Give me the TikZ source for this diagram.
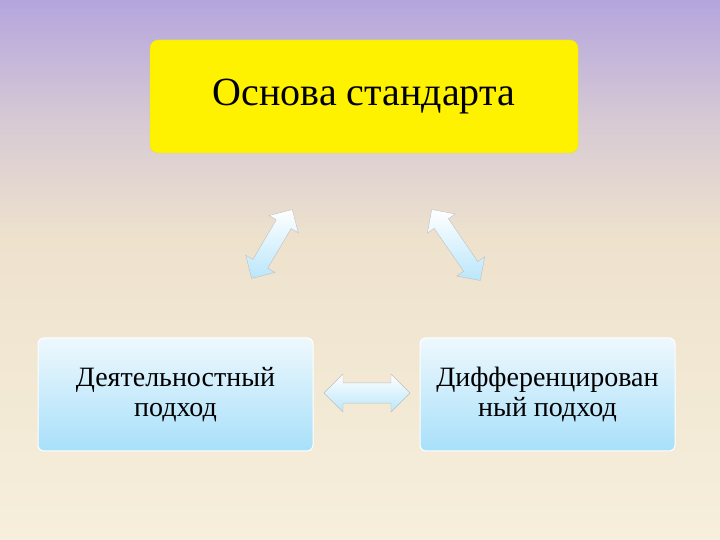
\documentclass[tikz,border=0pt]{standalone}
\usepackage{fontspec}
\setmainfont{Liberation Serif}
\usetikzlibrary{shapes.arrows}
\definecolor{bgtop}{RGB}{180,165,222}
\definecolor{bgmid}{RGB}{238,226,205}
\definecolor{bgbot}{RGB}{246,239,220}
\definecolor{boxtop}{RGB}{238,248,253}
\definecolor{boxbot}{RGB}{168,224,250}
\tikzset{
 bluebox/.style={rounded corners=6pt, top color=boxtop, bottom color=boxbot, draw=white, line width=1pt,
   minimum width=275pt, minimum height=113pt, align=center, font=\fontsize{28}{30}\selectfont, inner sep=0pt},
 barrow/.style={double arrow, draw=gray!50, line width=0.4pt, top color=white, bottom color=boxbot!80,
   double arrow head extend=8pt, inner xsep=0pt, inner ysep=8pt, minimum width=34pt}
}
\begin{document}
\begin{tikzpicture}[x=1pt,y=1pt]
\useasboundingbox (0,0) rectangle (720,540);
\shade[top color=bgtop, bottom color=bgmid, middle color=bgmid!60!bgtop] (0,300) rectangle (720,540);
\shade[top color=bgmid, bottom color=bgbot] (0,0) rectangle (720,300.5);
\node[rounded corners=8pt, fill=yellow, draw=yellow!90!black, line width=0.3pt, minimum width=428pt, minimum height=113pt,
  font=\fontsize{40}{44}\selectfont] (top) at (364,443.5) {Основа стандарта};
\node[bluebox] (left) at (175.5,145.5) {Деятельностный\\подход};
\node[bluebox, minimum width=255pt] (right) at (547.5,145.5) {Дифференцирован\\ный подход};
\node[barrow, minimum height=80pt, rotate=59.5] (a1) at (272,296) {};
\node[barrow, minimum height=86pt, rotate=-55.6] (a2) at (456,295) {};
\node[barrow, minimum height=86pt, minimum width=38pt, inner ysep=9pt] (a3) at (367,147) {};
\end{tikzpicture}
\end{document}
